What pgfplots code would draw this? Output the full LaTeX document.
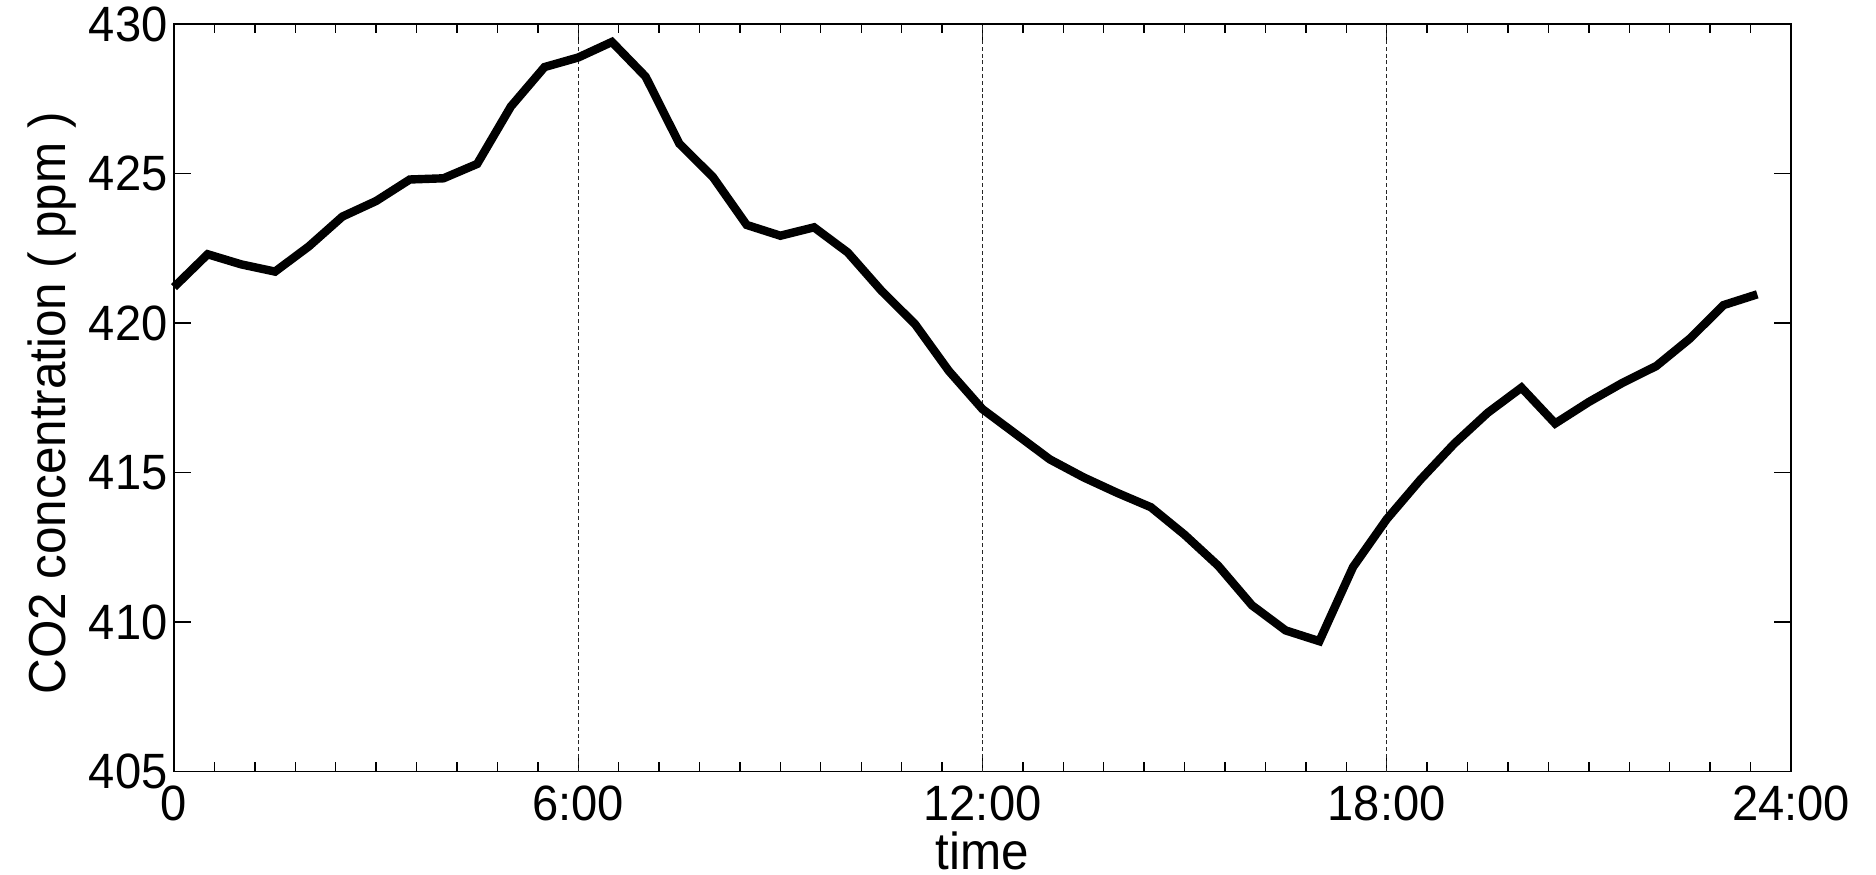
\documentclass[border=0pt]{standalone}
\usepackage{fontspec}
\setmainfont{Liberation Sans}[FakeStretch=0.95]
\usepackage{pgfplots}
\pgfplotsset{compat=1.18}
\begin{document}
\begin{tikzpicture}
\begin{axis}[
  scale only axis,
  width=404.25pt, height=186.9pt,
  xmin=0, xmax=24, ymin=405, ymax=430,
  xtick={0,6,12,18,24},
  xticklabels={0,6:00,12:00,18:00,24:00},
  minor x tick num=9,
  ytick={405,410,415,420,425,430},
  tick align=inside,
  xtick pos=both, ytick pos=both,
  major tick length=4.3pt,
  minor tick length=2.3pt,
  tick style={black, line width=0.35pt},
  axis line style={black, line width=0.45pt},
  /pgf/number format/assume math mode=true,
  /pgf/number format/1000 sep={},
  ticklabel style={font=\fontsize{12.4}{14}\selectfont},
  yticklabel style={xshift=1.9pt},
  label style={font=\fontsize{13}{15}\selectfont},
  xlabel={time},
  xlabel style={at={(axis description cs:0.5,-0.1305)}, anchor=base},
  ylabel={CO2 concentration ( ppm )},
  ylabel style={at={(axis description cs:-0.0674,0.4925)}, anchor=base},
  extra x ticks={6,12,18},
  extra x tick labels={},
  extra x tick style={grid=major, major grid style={black!85, line width=0.3pt, dash pattern=on 1pt off 0.7pt}, major tick length=0pt},
  clip=false,
]
\addplot[black, line width=2.1pt, line join=miter] coordinates {
(0,421.2) (0.5,422.3) (1,421.96) (1.5,421.72) (2,422.56) (2.5,423.56)
(3,424.08) (3.5,424.8) (4,424.84) (4.5,425.32) (5,427.24) (5.5,428.56)
(6,428.88) (6.5,429.4) (7,428.24) (7.5,426.0) (8,424.88) (8.5,423.28)
(9,422.92) (9.5,423.2) (10,422.36) (10.5,421.08) (11,419.96) (11.5,418.4)
(12,417.12) (12.5,416.28) (13,415.44) (13.5,414.84) (14,414.32) (14.5,413.84)
(15,412.92) (15.5,411.88) (16,410.56) (16.5,409.72) (17,409.36) (17.5,411.84)
(18,413.44) (18.5,414.76) (19,415.96) (19.5,417.0) (20,417.84) (20.5,416.64)
(21,417.36) (21.5,418.0) (22,418.56) (22.5,419.48) (23,420.6) (23.5,420.96)
};
\path (rel axis cs:-0.1076,-0.1382) coordinate (bl);
\path (rel axis cs:1.0526,1.0321) coordinate (tr);
\end{axis}
\pgfresetboundingbox
\path[use as bounding box] (bl) rectangle (tr);
\end{tikzpicture}
\end{document}
